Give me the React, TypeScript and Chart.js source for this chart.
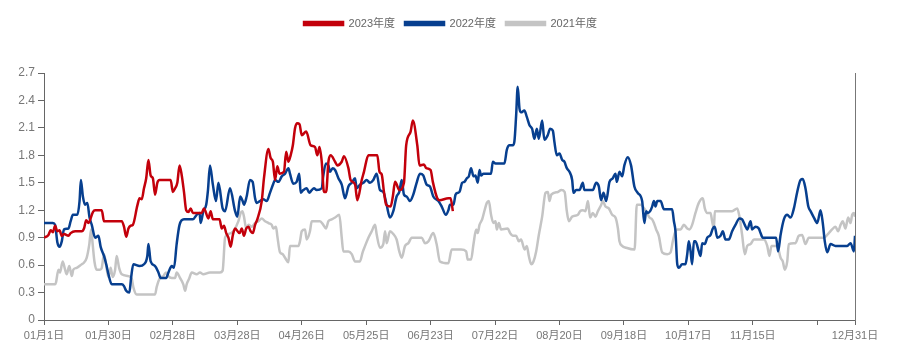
import React, { useEffect, useRef } from 'react';
import { Chart, registerables } from 'chart.js';

Chart.register(...registerables);

const seriesNames = ['2023年度', '2022年度', '2021年度'];
const seriesColors = ['#c3000b', '#073f8f', '#c4c4c4'];

const tickDays = [0, 29, 58, 87, 116, 145, 174, 203, 232, 261, 290, 319, 348, 365];
const tickLabels = ['01月1日', '01月30日', '02月28日', '03月28日', '04月26日', '05月25日', '06月23日', '07月22日', '08月20日', '09月18日', '10月17日', '11月15日', '', '12月31日'];
const yTickValues = [0, 0.3, 0.6, 0.9, 1.2, 1.5, 1.8, 2.1, 2.4, 2.7];

// [day of year (0 = 01月1日), value]
const data2023: [number, number][] = [
  [0, 0.9], [2, 0.93], [3, 0.98], [4, 0.96], [5, 1.03], [6, 0.97], [7, 0.98], [8, 0.92], [9, 0.94], [11, 0.92],
  [12, 0.95], [14, 0.97], [17, 0.97], [18, 1.0], [19, 1.09], [20, 1.06], [22, 1.18], [23, 1.2], [26, 1.2], [27, 1.08],
  [35, 1.08], [36, 1.02], [37, 0.91], [38, 1.0], [39, 1.03], [40, 1.04], [42, 1.25], [43, 1.33], [44, 1.32], [45, 1.44],
  [46, 1.55], [47, 1.75], [48, 1.58], [49, 1.55], [50, 1.37], [51, 1.5], [52, 1.53], [57, 1.53], [58, 1.4], [59, 1.44],
  [60, 1.5], [61, 1.69], [62, 1.58], [63, 1.4], [64, 1.2], [65, 1.18], [66, 1.22], [67, 1.17], [71, 1.17], [72, 1.22],
  [74, 1.11], [75, 1.19], [76, 1.1], [79, 1.1], [80, 1.0], [81, 1.03], [82, 0.95], [83, 0.9], [84, 0.8], [85, 0.93],
  [86, 1.0], [88, 0.95], [89, 1.0], [90, 0.92], [91, 1.0], [92, 1.02], [93, 0.97], [94, 0.95], [95, 1.04], [96, 1.1],
  [98, 1.3], [99, 1.55], [101, 1.87], [102, 1.77], [103, 1.73], [104, 1.53], [105, 1.68], [106, 1.6], [108, 1.62], [109, 1.84],
  [110, 1.73], [111, 1.8], [112, 1.91], [113, 2.1], [114, 2.15], [115, 2.14], [116, 2.02], [118, 2.06], [120, 1.91], [122, 1.89],
  [123, 1.8], [124, 1.89], [125, 1.73], [126, 1.4], [127, 1.4], [128, 1.73], [129, 1.8], [131, 1.73], [132, 1.69], [134, 1.73],
  [135, 1.79], [137, 1.66], [138, 1.53], [140, 1.48], [141, 1.31], [143, 1.53], [144, 1.62], [146, 1.8], [150, 1.8], [151, 1.62],
  [152, 1.59], [153, 1.4], [154, 1.26], [156, 1.24], [157, 1.35], [158, 1.51], [160, 1.42], [162, 1.5], [163, 1.91], [165, 2.06],
  [166, 2.18], [168, 1.91], [169, 1.69], [171, 1.7], [172, 1.66], [174, 1.64], [175, 1.51], [177, 1.33], [178, 1.31], [182, 1.33],
  [183, 1.33], [184, 1.19],
];

const data2022: [number, number][] = [
  [0, 1.06], [4, 1.06], [5, 1.04], [6, 0.85], [7, 0.8], [8, 0.86], [9, 0.99], [11, 1.0], [12, 1.08], [13, 1.15],
  [15, 1.15], [16, 1.3], [16.6, 1.53], [17.5, 1.35], [18.5, 1.26], [19.5, 1.28], [20.5, 1.12], [21.5, 1.04], [23, 0.9], [24.5, 0.92],
  [25.5, 0.8], [27, 0.7], [28, 0.61], [29, 0.5], [30.5, 0.39], [35, 0.39], [36, 0.37], [37, 0.32], [38.4, 0.3], [39.2, 0.46],
  [40.2, 0.61], [43, 0.59], [45, 0.61], [46.5, 0.7], [47, 0.83], [48, 0.64], [50, 0.59], [51.5, 0.52], [52.5, 0.46], [55, 0.46],
  [56, 0.52], [57.5, 0.59], [58.5, 0.57], [59.7, 0.83], [61, 1.04], [63, 1.1], [67, 1.1], [68.7, 1.15], [70, 1.17], [70.5, 1.06],
  [71.7, 1.19], [73, 1.26], [73.8, 1.42], [74.7, 1.69], [76, 1.48], [77.4, 1.3], [78.5, 1.5], [80.4, 1.22], [81.5, 1.19], [83.7, 1.44],
  [86, 1.19], [87, 1.13], [88.3, 1.35], [89.4, 1.3], [90, 1.26], [91.2, 1.35], [92.7, 1.53], [93.9, 1.51], [95, 1.33], [95.7, 1.28],
  [97.2, 1.3], [98.7, 1.32], [100.2, 1.3], [101.7, 1.39], [103.2, 1.49], [104, 1.53], [105.5, 1.51], [107, 1.57], [108.5, 1.6], [110, 1.66],
  [110.7, 1.6], [112.2, 1.49], [113.7, 1.51], [114.9, 1.6], [115.5, 1.39], [116.7, 1.42], [118.2, 1.44], [119.4, 1.39], [120.5, 1.42], [121.5, 1.44],
  [122.7, 1.42], [125, 1.44], [125.7, 1.58], [126.9, 1.71], [128, 1.69], [128.7, 1.62], [129.9, 1.66], [131, 1.64], [132.5, 1.55], [134, 1.48],
  [135.5, 1.33], [137, 1.46], [138.5, 1.5], [140, 1.55], [140.7, 1.44], [142.2, 1.48], [143.7, 1.5], [145.2, 1.53], [146.7, 1.5], [148.2, 1.53],
  [149.7, 1.6], [151.2, 1.42], [152.7, 1.4], [154.2, 1.26], [155.7, 1.12], [157.2, 1.19], [158.7, 1.35], [159.9, 1.4], [161, 1.53], [162, 1.37],
  [163.2, 1.35], [164.7, 1.3], [166.2, 1.37], [167.7, 1.5], [169.2, 1.6], [170.7, 1.58], [172.2, 1.48], [173.7, 1.46], [175.2, 1.35], [177.5, 1.3],
  [179, 1.24], [180.9, 1.15], [182, 1.2], [182.7, 1.26], [184.3, 1.26], [185.2, 1.37], [186.2, 1.39], [187, 1.4], [188.2, 1.5], [189.2, 1.51],
  [190.3, 1.55], [191.2, 1.57], [192.2, 1.66], [193.3, 1.57], [194.2, 1.58], [195.2, 1.5], [196, 1.64], [196.7, 1.58], [197.8, 1.6], [201.2, 1.6],
  [202, 1.73], [203.2, 1.71], [207.2, 1.71], [208.3, 1.86], [209.5, 1.91], [211, 1.91], [211.7, 1.95], [212.5, 2.24], [213.2, 2.55], [214, 2.31],
  [214.7, 2.27], [216.2, 2.29], [217.3, 2.22], [218.5, 2.13], [219.7, 2.09], [220.7, 1.98], [221.8, 2.09], [222.7, 1.98], [224.2, 2.18], [225.2, 1.97],
  [226.7, 2.02], [227.8, 2.09], [229, 2.07], [229.7, 1.95], [230.8, 1.8], [232, 1.82], [233.2, 1.75], [234.2, 1.73], [235.3, 1.66], [236.5, 1.62],
  [237.7, 1.53], [238.3, 1.39], [239.5, 1.42], [241, 1.42], [242.5, 1.5], [243.2, 1.42], [247, 1.42], [248.5, 1.5], [249.7, 1.46], [250.7, 1.31],
  [251.8, 1.39], [253, 1.3], [254.5, 1.51], [256, 1.55], [257.2, 1.6], [257.8, 1.51], [259, 1.62], [260.2, 1.57], [261.2, 1.69], [262.7, 1.78],
  [264.2, 1.69], [265.7, 1.46], [267.2, 1.39], [269.2, 1.3], [270.2, 1.06], [271, 1.19], [271.7, 1.17], [272.8, 1.19], [273.7, 1.24], [274.5, 1.3],
  [275.2, 1.24], [276, 1.3], [277.5, 1.3], [279, 1.21], [282.7, 1.21], [283.5, 1.08], [284.2, 0.97], [285, 0.61], [285.7, 0.57], [287.2, 0.61],
  [288.7, 0.61], [289.5, 0.72], [290.2, 0.86], [291, 0.75], [291.7, 0.61], [292.5, 0.86], [293.2, 0.86], [294.7, 0.75], [295.5, 0.7], [296.2, 0.84],
  [297.4, 0.83], [298.5, 0.9], [300, 0.93], [301, 1.0], [301.9, 1.02], [303, 0.9], [304.5, 0.92], [305.5, 0.97], [306.7, 0.88], [308.2, 0.88],
  [309.7, 0.97], [311.2, 1.04], [313, 1.11], [314.2, 1.1], [315.4, 1.04], [316.5, 0.99], [318, 1.08], [318.7, 0.99], [320.2, 1.02], [321.7, 1.0],
  [322.5, 0.95], [323.5, 0.9], [329.5, 0.9], [330.4, 0.75], [331.5, 0.93], [333, 1.1], [334.5, 1.15], [336, 1.12], [337.5, 1.22], [339, 1.4],
  [340.5, 1.53], [341.5, 1.54], [342.7, 1.44], [344, 1.24], [345, 1.19], [346.5, 1.12], [348, 1.06], [349.5, 1.2], [350.5, 1.06], [351.4, 0.86],
  [352.5, 0.74], [354, 0.83], [356.2, 0.81], [361.5, 0.81], [363, 0.84], [364.5, 0.75], [365, 0.92],
];

const data2021: [number, number][] = [
  [0, 0.39], [5, 0.39], [5.4, 0.41], [6.5, 0.55], [7.2, 0.52], [8.4, 0.64], [9.5, 0.55], [10.2, 0.5], [11.4, 0.59], [12.5, 0.48],
  [13.2, 0.55], [14.7, 0.57], [17, 0.61], [17.7, 0.62], [19.2, 0.68], [20.4, 0.83], [21.2, 0.99], [21.9, 0.83], [22.7, 0.64], [23.7, 0.55],
  [25.2, 0.55], [26, 0.57], [27, 0.72], [27.9, 0.61], [29, 0.47], [30, 0.57], [30.9, 0.47], [32, 0.55], [32.7, 0.7], [33.8, 0.57],
  [35, 0.5], [38, 0.48], [39.5, 0.45], [40.2, 0.36], [41.7, 0.28], [50, 0.28], [50.7, 0.36], [52.2, 0.46], [53.7, 0.48], [54.9, 0.52],
  [55.9, 0.48], [57.5, 0.46], [59, 0.46], [59.7, 0.52], [61.2, 0.46], [62.7, 0.39], [63.5, 0.32], [64.2, 0.39], [65.3, 0.45], [66.5, 0.52],
  [68.7, 0.5], [70.2, 0.52], [71.7, 0.5], [74.7, 0.52], [79.2, 0.52], [80.4, 0.54], [81.5, 0.9], [83, 0.94], [85.2, 0.97], [87.5, 1.08],
  [88.5, 1.17], [89.3, 1.19], [90, 1.13], [91, 1.0], [92, 1.04], [93.5, 1.02], [95, 1.06], [96.5, 1.08], [98, 1.11], [99.5, 1.08],
  [101, 1.06], [102.5, 1.04], [103.2, 1.0], [104.4, 1.02], [105, 0.92], [106.2, 0.74], [107.4, 0.72], [108.5, 0.68], [110, 0.63], [110.7, 0.81],
  [114.5, 0.81], [115.2, 0.86], [116, 0.97], [117.5, 0.99], [118.2, 0.88], [119.7, 0.97], [120.5, 1.08], [124.2, 1.08], [125.7, 1.04], [126.9, 1.0],
  [128, 1.08], [129.5, 1.1], [131, 1.12], [132.9, 1.15], [134, 0.9], [134.7, 0.75], [137, 0.75], [138.5, 0.72], [140, 0.64], [142.2, 0.64],
  [143.4, 0.74], [144.5, 0.81], [146, 0.9], [147.5, 0.97], [149, 1.04], [149.7, 0.94], [151.2, 0.79], [152.7, 0.83], [153.5, 0.97], [154.2, 0.84],
  [155.7, 0.97], [157.2, 0.94], [158.7, 0.88], [159.9, 0.75], [161, 0.68], [162.5, 0.81], [164, 0.84], [165.5, 0.9], [170, 0.9], [171.5, 0.84],
  [173, 0.86], [175.2, 0.95], [176.7, 0.83], [178.2, 0.64], [182, 0.62], [183.5, 0.77], [187.7, 0.77], [190, 0.75], [190.7, 0.66], [192.2, 0.66],
  [193.3, 0.83], [194.5, 0.99], [195.2, 0.95], [196, 1.04], [197.2, 1.1], [198.3, 1.2], [199.3, 1.28], [200.2, 1.3], [201.2, 1.15], [202.3, 1.06],
  [203.2, 1.08], [203.8, 0.99], [204.7, 1.06], [205.7, 0.99], [208.7, 1.0], [209.8, 0.95], [211, 0.92], [212.5, 0.92], [213.7, 0.86], [214.7, 0.88],
  [216.3, 0.77], [217.3, 0.81], [218.2, 0.7], [219.3, 0.61], [220.3, 0.64], [221.5, 0.75], [222.7, 0.93], [224.2, 1.13], [225.7, 1.39], [226.8, 1.4],
  [227.5, 1.3], [228.3, 1.37], [231.3, 1.4], [232.8, 1.42], [234.3, 1.4], [235.3, 1.19], [236.2, 1.08], [237.7, 1.13], [240.3, 1.15], [241.3, 1.19],
  [242.5, 1.2], [243.7, 1.19], [244.8, 1.3], [245.8, 1.12], [247, 1.17], [248.2, 1.13], [249.3, 1.19], [250.8, 1.26], [251.5, 1.3], [252.7, 1.24],
  [254.2, 1.22], [255.7, 1.15], [257.2, 1.12], [258.3, 1.0], [259, 0.86], [260.2, 0.81], [262, 0.79], [265.8, 0.77], [266.8, 1.26], [268.8, 1.26],
  [269.5, 1.24], [271, 1.19], [272.5, 1.12], [273.7, 1.1], [274.5, 1.06], [275.5, 0.99], [276.7, 0.92], [278.2, 0.74], [280.5, 0.72], [282, 0.74],
  [283, 0.86], [283.9, 0.95], [285, 0.99], [286.5, 0.99], [288, 1.04], [289.5, 1.0], [290.5, 0.99], [291.7, 1.04], [293.2, 1.17], [294.7, 1.28],
  [296.5, 1.33], [297.4, 1.22], [298.5, 1.17], [300, 1.17], [300.7, 1.08], [301.5, 1.0], [301.9, 1.19], [309.7, 1.19], [312, 1.22], [313, 1.13],
  [314.2, 0.93], [315.4, 0.72], [316.5, 0.81], [318, 0.83], [319.5, 0.88], [324, 0.88], [325.5, 0.81], [326.5, 0.7], [327.4, 0.81], [330, 0.81],
  [331.5, 0.68], [332.5, 0.64], [333.4, 0.55], [334.5, 0.64], [335.2, 0.83], [338.2, 0.84], [339.7, 0.92], [341.2, 0.93], [342.7, 0.83], [344.2, 0.9],
  [351, 0.9], [353.2, 0.95], [354.7, 0.99], [356.2, 1.02], [357.4, 0.97], [358.5, 1.04], [359.5, 1.08], [360.7, 1.0], [361.9, 1.12], [363, 1.06],
  [363.7, 1.15], [364.5, 1.17], [365, 1.13],
];

const allSeries = [data2023, data2022, data2021];

const FONT_FAMILY = '"Liberation Sans", Arial, "Noto Sans CJK SC", sans-serif';

const legendSpacer = {
  id: 'legendSpacer',
  afterInit(chart: any) {
    const legend = chart.legend;
    if (!legend) return;
    const origFit = legend.fit;
    legend.fit = function () {
      origFit.call(this);
      this.height = 65;
    };
  },
};

export default function App() {
  const canvasRef = useRef<HTMLCanvasElement>(null);

  useEffect(() => {
    if (!canvasRef.current) return;
    const chart = new Chart(canvasRef.current, {
      type: 'line',
      data: {
        datasets: allSeries.map((s, i) => ({
          label: seriesNames[i],
          data: s.map(([x, y]) => ({ x, y })),
          borderColor: seriesColors[i],
          backgroundColor: seriesColors[i],
          borderWidth: 2.5,
          pointRadius: 0,
          pointHoverRadius: 0,
          cubicInterpolationMode: 'monotone' as const,
          fill: false,
        })),
      },
      options: {
        animation: false,
        responsive: true,
        maintainAspectRatio: false,
        layout: { padding: { top: 8, right: 0, left: 0, bottom: 0 } },
        plugins: {
          legend: {
            position: 'top',
            align: 'center',
            labels: {
              boxWidth: 39,
              boxHeight: 3,
              padding: 10,
              color: '#666',
              font: { family: FONT_FAMILY, size: 11 },
            },
          },
          tooltip: { enabled: false },
        },
        scales: {
          x: {
            type: 'linear',
            min: 0,
            max: 365,
            afterBuildTicks: (s: any) => {
              s.ticks = tickDays.map((v) => ({ value: v }));
            },
            afterFit: (s: any) => {
              s.height = 31;
            },
            ticks: {
              autoSkip: false,
              maxRotation: 0,
              minRotation: 0,
              padding: 4,
              color: '#777',
              font: { family: FONT_FAMILY, size: 11 },
              callback: (_v: any, i: number) => tickLabels[i] ?? '',
            },
            grid: { display: true, drawOnChartArea: false, drawTicks: true, tickLength: 5, color: '#666' },
            border: { display: true, color: '#666' },
          },
          y: {
            position: 'left',
            min: 0,
            max: 2.7,
            afterBuildTicks: (s: any) => {
              s.ticks = yTickValues.map((v) => ({ value: v }));
            },
            afterFit: (s: any) => {
              s.width = 44;
            },
            ticks: {
              padding: 3,
              color: '#777',
              font: { family: FONT_FAMILY, size: 12 },
              callback: (v: any) => (Number(v) === 0 ? '0' : Number(v).toFixed(1)),
            },
            grid: { display: true, drawOnChartArea: false, drawTicks: true, tickLength: 6, color: '#666' },
            border: { display: true, color: '#666' },
          },
          y2: {
            position: 'right',
            min: 0,
            max: 2.7,
            afterFit: (s: any) => {
              s.width = 46;
            },
            ticks: { display: false },
            grid: { display: false },
            border: { display: true, color: '#777' },
          },
        },
      },
      plugins: [legendSpacer],
    });
    return () => chart.destroy();
  }, []);

  return (
    <div style={{ position: 'fixed', left: 0, top: 0, width: 901, height: 351, background: '#fff' }}>
      <canvas ref={canvasRef} />
    </div>
  );
}
